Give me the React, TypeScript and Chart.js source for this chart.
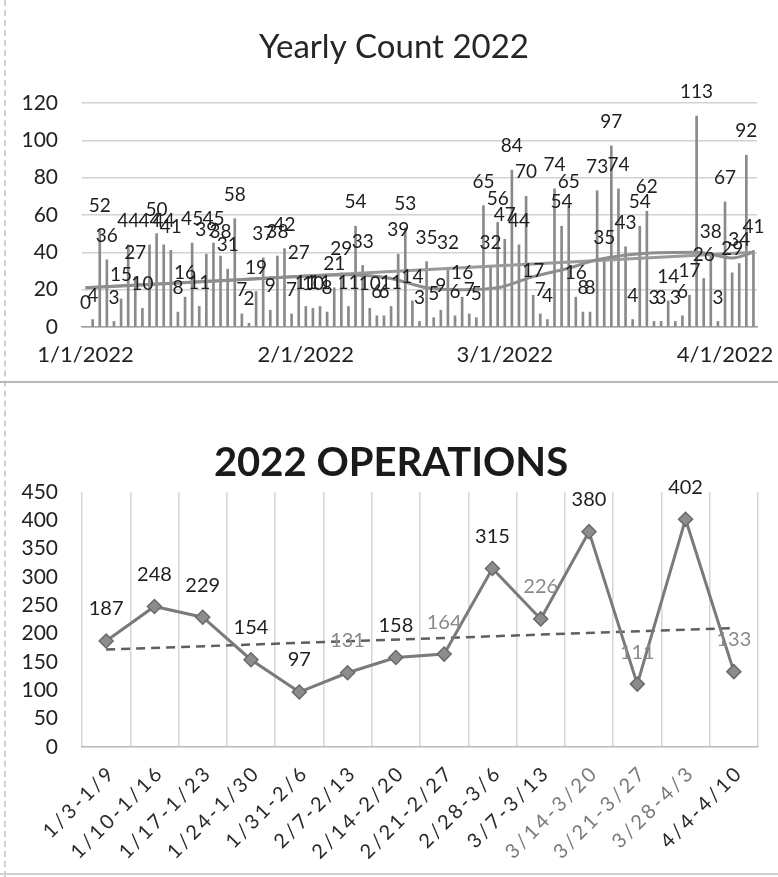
import React, { useEffect, useRef } from "react";
import { Chart, registerables } from "chart.js";

Chart.register(...registerables);

// ---------- Top chart data (daily counts, 1/1/2022 .. 4/5/2022) ----------
const startYear = 2022;
const dailyCounts = [
  0, 4, 52, 36, 3, 15, 44, 27, 10, 44,
  50, 44, 41, 8, 16, 45, 11, 39, 45, 38,
  31, 58, 7, 2, 19, 37, 9, 38, 42, 7,
  27, 11, 10, 11, 8, 21, 29, 11, 54, 33,
  10, 6, 6, 11, 39, 53, 14, 3, 35, 5,
  9, 32, 6, 16, 7, 5, 65, 32, 56, 47,
  84, 44, 70, 17, 7, 4, 74, 54, 65, 16,
  8, 8, 73, 35, 97, 74, 43, 4, 54, 62,
  3, 3, 14, 3, 6, 17, 113, 26, 38, 3,
  67, 29, 34, 92, 41,
];
const shownDateTicks = ["1/1/2022", "2/1/2022", "3/1/2022", "4/1/2022"];
// linear trend line (end points)
const trendIdx = [0, 94];
const trendVals = [21, 40];
// curved trend line (anchor points)
const curveIdx = [0, 25, 37, 43, 48, 53, 58, 63, 68, 72, 79, 86, 91, 94];
const curveVals = [21, 26, 28, 26, 21, 20, 21, 27, 31.5, 36, 39.5, 40, 37, 40];
const yTicksTop = [0, 20, 40, 60, 80, 100, 120];

// ---------- Bottom chart data ----------
const weeks = [
  "1/3-1/9", "1/10-1/16", "1/17-1/23", "1/24-1/30", "1/31-2/6", "2/7-2/13",
  "2/14-2/20", "2/21-2/27", "2/28-3/6", "3/7-3/13", "3/14-3/20", "3/21-3/27",
  "3/28-4/3", "4/4-4/10",
];
const weeklyOps = [187, 248, 229, 154, 97, 131, 158, 164, 315, 226, 380, 111, 402, 133];
const opsTrendStart = 172;
const opsTrendEnd = 210;

const FONT = "Lato, 'Open Sans', sans-serif";

function dateLabels(n: number): string[] {
  const out: string[] = [];
  for (let i = 0; i < n; i++) {
    const d = new Date(startYear, 0, 1 + i);
    out.push(`${d.getMonth() + 1}/${d.getDate()}/${d.getFullYear()}`);
  }
  return out;
}

function sparse(n: number, idx: number[], vals: number[]): (number | null)[] {
  const arr: (number | null)[] = new Array(n).fill(null);
  idx.forEach((k, j) => (arr[k] = vals[j]));
  return arr;
}

const TopChart: React.FC = () => {
  const ref = useRef<HTMLCanvasElement | null>(null);
  useEffect(() => {
    if (!ref.current) return;
    const labels = dateLabels(dailyCounts.length);
    const n = labels.length;
    const plugin = {
      id: "topDecor",
      afterDatasetsDraw(chart: any) {
        const { ctx } = chart;
        const meta = chart.getDatasetMeta(0);
        ctx.save();
        ctx.font = `19px ${FONT}`;
        ctx.fillStyle = "#1e1e1e";
        ctx.textAlign = "center";
        ctx.textBaseline = "middle";
        meta.data.forEach((el: any, i: number) => {
          ctx.fillText(String(dailyCounts[i]), el.x, el.y - 24);
        });
        ctx.restore();
      },
      afterDraw(chart: any) {
        const { ctx } = chart;
        ctx.save();
        ctx.font = `33px ${FONT}`;
        ctx.fillStyle = "#262626";
        ctx.textAlign = "center";
        ctx.textBaseline = "middle";
        ctx.fillText("Yearly Count 2022", 394, 47);
        ctx.restore();
      },
    };
    const chart = new Chart(ref.current, {
      type: "bar",
      data: {
        labels,
        datasets: [
          {
            type: "bar",
            data: dailyCounts,
            backgroundColor: "#8a8a8a",
            barThickness: 2,
            order: 2,
          } as any,
          {
            type: "line",
            data: sparse(n, trendIdx, trendVals),
            borderColor: "#9a9a9a",
            borderWidth: 3,
            pointRadius: 0,
            spanGaps: true,
            order: 1,
          } as any,
          {
            type: "line",
            data: sparse(n, curveIdx, curveVals),
            borderColor: "#8e8e8e",
            borderWidth: 3,
            pointRadius: 0,
            spanGaps: true,
            cubicInterpolationMode: "monotone",
            order: 0,
          } as any,
        ],
      },
      options: {
        responsive: false,
        animation: false,
        layout: { padding: { top: 103, right: 21, left: 0, bottom: 0 } },
        plugins: { legend: { display: false }, tooltip: { enabled: false }, title: { display: false } },
        scales: {
          x: {
            type: "category",
            grid: { display: false, drawTicks: false, tickLength: 0 },
            border: { display: true, color: "#a0a0a0", width: 1.5 },
            ticks: {
              autoSkip: false,
              maxRotation: 0,
              minRotation: 0,
              padding: 15,
              color: "#222",
              font: { family: FONT, size: 22 },
              callback: (_v: any, i: number) => (shownDateTicks.includes(labels[i]) ? labels[i] : ""),
            },
            afterFit: (s: any) => {
              s.height = 56;
            },
          },
          y: {
            min: yTicksTop[0],
            max: yTicksTop[yTicksTop.length - 1],
            grid: { color: "#d2d2d2", lineWidth: 1.5, drawTicks: false },
            border: { display: false },
            ticks: {
              stepSize: 20,
              padding: 24,
              color: "#222",
              font: { family: FONT, size: 21 },
            },
            afterFit: (s: any) => {
              s.width = 82;
            },
          },
        },
      } as any,
      plugins: [plugin],
    });
    return () => chart.destroy();
  }, []);
  return <canvas ref={ref} width={778} height={383} style={{ display: "block" }} />;
};

const BottomChart: React.FC = () => {
  const ref = useRef<HTMLCanvasElement | null>(null);
  useEffect(() => {
    if (!ref.current) return;
    const n = weeks.length;
    const fadedLabels = new Set([5, 7, 9, 11, 13]);
    const fadedTicks = new Set([10, 11, 12]);
    const plugin = {
      id: "bottomDecor",
      afterDatasetsDraw(chart: any) {
        const { ctx } = chart;
        const meta = chart.getDatasetMeta(0);
        ctx.save();
        ctx.font = `20px ${FONT}`;
        ctx.textAlign = "center";
        ctx.textBaseline = "middle";
        meta.data.forEach((el: any, i: number) => {
          ctx.fillStyle = fadedLabels.has(i) ? "#8a8a8a" : "#1e1e1e";
          ctx.fillText(String(weeklyOps[i]), el.x, el.y - 32);
        });
        ctx.restore();
      },
      afterDraw(chart: any) {
        const { ctx } = chart;
        ctx.save();
        ctx.font = `bold 40px ${FONT}`;
        ctx.fillStyle = "#1a1a1a";
        ctx.textAlign = "center";
        ctx.textBaseline = "middle";
        ctx.fillText("2022 OPERATIONS", 391, 78);
        const xs = chart.scales.x;
        ctx.font = `20px ${FONT}`;
        (ctx as any).letterSpacing = "3px";
        ctx.textAlign = "right";
        ctx.textBaseline = "middle";
        weeks.forEach((w, i) => {
          const x = xs.getPixelForValue(i);
          ctx.save();
          ctx.translate(x + 6, xs.top + 22);
          ctx.rotate(-Math.PI / 4);
          ctx.fillStyle = fadedTicks.has(i) ? "#7a7a7a" : "#2a2a2a";
          ctx.fillText(w, 0, 0);
          ctx.restore();
        });
        ctx.restore();
      },
    };
    const trend: (number | null)[] = new Array(n).fill(null);
    trend[0] = opsTrendStart;
    trend[n - 1] = opsTrendEnd;
    const chart = new Chart(ref.current, {
      type: "line",
      data: {
        labels: weeks,
        datasets: [
          {
            data: weeklyOps,
            borderColor: "#7a7a7a",
            borderWidth: 3,
            pointStyle: "rectRot",
            pointRadius: 7,
            pointBackgroundColor: "#8c8c8c",
            pointBorderColor: "#6a6a6a",
            pointBorderWidth: 1.5,
            tension: 0,
          },
          {
            data: trend,
            borderColor: "#5e5e5e",
            borderWidth: 2.5,
            borderDash: [9, 6],
            pointRadius: 0,
            spanGaps: true,
          },
        ],
      },
      options: {
        responsive: false,
        animation: false,
        layout: { padding: { top: 107, right: 20, left: 0, bottom: 0 } },
        plugins: { legend: { display: false }, tooltip: { enabled: false }, title: { display: false } },
        scales: {
          x: {
            type: "category",
            offset: true,
            grid: { display: true, offset: true, color: "#d6d6d6", lineWidth: 1.5, drawTicks: false },
            border: { display: true, color: "#b8b8b8", width: 1.5 },
            ticks: { display: false },
            afterFit: (s: any) => {
              s.height = 130;
            },
          },
          y: {
            min: 0,
            max: 450,
            grid: { display: false, drawTicks: false },
            border: { display: false },
            ticks: {
              stepSize: 50,
              padding: 24,
              color: "#222",
              font: { family: FONT, size: 21 },
            },
            afterFit: (s: any) => {
              s.width = 82;
            },
          },
        },
      } as any,
      plugins: [plugin],
    });
    return () => chart.destroy();
  }, []);
  return <canvas ref={ref} width={778} height={492} style={{ display: "block" }} />;
};

export default function App() {
  return (
    <div
      style={{
        position: "fixed",
        left: 0,
        top: 0,
        width: 778,
        height: 877,
        background: "#ffffff",
        overflow: "hidden",
      }}
    >
      <div style={{ position: "absolute", left: 0, top: 0 }}>
        <TopChart />
      </div>
      <div style={{ position: "absolute", left: 0, top: 385 }}>
        <BottomChart />
      </div>
      <div style={{ position: "absolute", left: 4, top: 0, width: 0, height: 877, borderLeft: "2px dashed #cfcfcf" }} />
      <div style={{ position: "absolute", left: 0, top: 381, width: 778, height: 2, background: "#b8b8b8" }} />
      <div style={{ position: "absolute", left: 0, top: 873, width: 778, height: 2, background: "#d0d0d0" }} />
    </div>
  );
}
